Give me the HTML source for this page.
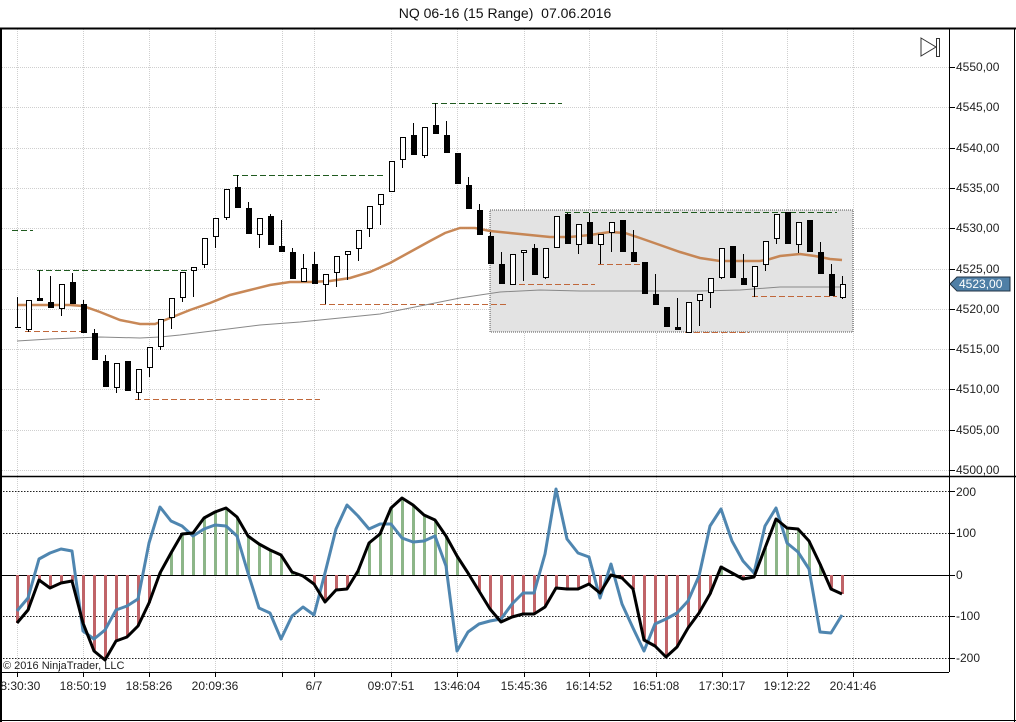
<!DOCTYPE html>
<html><head><meta charset="utf-8">
<style>
html,body{margin:0;padding:0;background:#fff;}
body{width:1016px;height:722px;overflow:hidden;font-family:"Liberation Sans",Arial,sans-serif;}
svg{display:block}
text{font-family:"Liberation Sans",Arial,sans-serif;}
</style></head>
<body>
<svg id="c" width="1016" height="722" viewBox="0 0 1016 722" xmlns="http://www.w3.org/2000/svg">
<rect width="1016" height="722" fill="#fff"/>
<text x="505" y="18" font-size="14" text-anchor="middle" fill="#111">NQ 06-16 (15 Range)&#160; 07.06.2016</text>
<g id="grid"></g>
<rect x="490" y="210" width="363" height="122" fill="#e3e3e3" stroke="#555" stroke-width="1" stroke-dasharray="1,1"/>
<g id="lev"></g>
<g id="ma"></g>
<g id="cand"></g>
<g id="low"></g>
<line x1="0" y1="28.5" x2="1016" y2="28.5" stroke="#000" stroke-width="2"/>
<line x1="1" y1="28" x2="1" y2="722" stroke="#000" stroke-width="2"/>
<line x1="0" y1="476.5" x2="1016" y2="476.5" stroke="#000" stroke-width="1.5"/>
<line x1="949.5" y1="28" x2="949.5" y2="672" stroke="#000" stroke-width="1"/>
<line x1="0" y1="672.5" x2="949" y2="672.5" stroke="#000" stroke-width="1"/>
<line x1="1014.5" y1="28" x2="1014.5" y2="722" stroke="#000" stroke-width="1"/>
<line x1="0" y1="720.5" x2="1016" y2="720.5" stroke="#000" stroke-width="1"/>
<polygon points="921,38 936,47 921,56" fill="none" stroke="#333" stroke-width="1"/>
<rect x="936.5" y="38.5" width="3" height="18" fill="none" stroke="#333" stroke-width="1"/>
<g font-size="12" fill="#222" id="ylab">
<text x="956" y="71">4550,00</text>
<text x="956" y="111">4545,00</text>
<text x="956" y="152">4540,00</text>
<text x="956" y="192">4535,00</text>
<text x="956" y="232">4530,00</text>
<text x="956" y="273">4525,00</text>
<text x="956" y="313">4520,00</text>
<text x="956" y="353">4515,00</text>
<text x="956" y="393">4510,00</text>
<text x="956" y="434">4505,00</text>
<text x="956" y="474">4500,00</text>
<text x="956" y="496">200</text>
<text x="956" y="537">100</text>
<text x="956" y="579">0</text>
<text x="956" y="620">-100</text>
<text x="956" y="662">-200</text>
</g>
<polygon points="950,284 957,277 1010,277 1010,291 957,291" fill="#4f7fa6" stroke="#234" stroke-width="1"/>
<text x="959" y="288" font-size="12" fill="#fff">4523,00</text>
<text x="3" y="669" font-size="11" fill="#222">© 2016 NinjaTrader, LLC</text>
<g font-size="12" fill="#222" text-anchor="middle">
<text x="17" y="690">18:30:30</text>
<text x="83" y="690">18:50:19</text>
<text x="149" y="690">18:58:26</text>
<text x="215" y="690">20:09:36</text>
<text x="314" y="690">6/7</text>
<text x="391" y="690">09:07:51</text>
<text x="457" y="690">13:46:04</text>
<text x="524" y="690">15:45:36</text>
<text x="589" y="690">16:14:52</text>
<text x="656" y="690">16:51:08</text>
<text x="722" y="690">17:30:17</text>
<text x="787" y="690">19:12:22</text>
<text x="853" y="690">20:41:46</text>
</g>
</svg>
<script>
var NS="http://www.w3.org/2000/svg";
function el(p,t,a){var e=document.createElementNS(NS,t);for(var k in a)e.setAttribute(k,a[k]);document.getElementById(p).appendChild(e);return e;}
var gx=[17,83,149,215,282,314,391,457,524,589,656,722,787,853];
gx.forEach(function(x){
 el("grid","line",{x1:x+.5,y1:29,x2:x+.5,y2:672,stroke:"#cfcfcf","stroke-dasharray":"1,1"});
 el("grid","line",{x1:x+.5,y1:672,x2:x+.5,y2:677,stroke:"#000"});
});
[67,107,148,188,228,269,309,349,389,430,470].forEach(function(y){
 el("grid","line",{x1:0,y1:y+.5,x2:949,y2:y+.5,stroke:"#cfcfcf","stroke-dasharray":"1,1"});
 el("grid","line",{x1:949,y1:y+.5,x2:955,y2:y+.5,stroke:"#000"});
});
[491,533,616,658].forEach(function(y){
 el("grid","line",{x1:0,y1:y+.5,x2:949,y2:y+.5,stroke:"#222","stroke-dasharray":"1.5,1.5"});
 el("grid","line",{x1:949,y1:y+.5,x2:955,y2:y+.5,stroke:"#000"});
});
el("grid","line",{x1:0,y1:575.5,x2:955,y2:575.5,stroke:"#000"});
var G="#1f5a1f",O="#c0673a";
[[12,33,230,G],[37,190,270,G],[233,385,175,G],[432,562,103,G],[565,837,212,G],
 [25,88,331,O],[135,320,399,O],[320,508,304,O],[510,595,284,O],[598,640,264,O],[685,749,332,O],[752,837,296,O]
].forEach(function(l){el("lev","line",{x1:l[0],y1:l[2]+.5,x2:l[1],y2:l[2]+.5,stroke:l[3],"stroke-dasharray":"6,3"});});
var ema=[[17,305],[40,305],[70,305],[83,306],[100,312],[120,320],[140,324],[155,324],[170,318],[190,310],[210,303],[230,295],[250,290],[270,285],[290,282],[310,282],[330,281],[350,278],[370,272],[390,263],[410,252],[430,241],[445,233],[460,228],[475,228],[490,231],[510,233],[530,235],[550,237],[570,237],[590,235],[610,232],[625,233],[640,238],[660,245],[680,252],[700,258],[720,261],[740,261],[760,261],[770,259],[780,256],[800,254],[815,256],[830,259],[842,260]];
var gr=[[17,341],[50,339],[100,337],[140,338],[160,337],[180,335],[220,330],[260,325],[300,322],[340,318],[380,314],[420,306],[460,298],[500,292],[540,290],[580,291],[620,291],[660,291],[700,291],[740,290],[780,287],[820,287],[842,287]];
el("ma","polyline",{points:gr.join(" "),fill:"none",stroke:"#888","stroke-width":1});
el("ma","polyline",{points:ema.join(" "),fill:"none",stroke:"#c27b45","stroke-width":2.5,"stroke-opacity":.9});
var C=[[327,327,297,327,0],[300,329,300,332,0],[298,300,270,300,1],[302,307,276,307,1],[284,308,284,316,0],[282,303,273,303,1],[304,332,300,332,1],[333,359,329,359,1],[361,386,355,386,1],[363,387,363,393,0],[361,390,361,390,1],[369,392,369,400,0],[347,367,347,377,0],[319,346,319,350,0],[298,317,298,329,0],[272,297,272,302,0],[267,270,267,297,0],[238,264,238,268,0],[218,236,218,248,0],[189,217,189,220,0],[187,207,175,207,1],[208,233,202,233,1],[218,234,218,248,0],[216,244,214,244,1],[246,251,220,251,1],[252,278,248,278,1],[268,281,254,281,0],[264,283,252,283,1],[274,284,274,304,0],[256,272,256,287,0],[251,254,251,280,0],[230,248,230,261,0],[206,228,206,237,0],[194,204,194,225,0],[161,191,161,191,0],[137,159,137,168,0],[135,154,123,154,1],[127,155,127,158,0],[125,133,103,133,1],[135,152,121,152,1],[153,183,153,183,1],[185,208,177,208,1],[210,234,204,234,1],[236,263,232,263,1],[264,283,252,283,1],[254,284,254,284,0],[250,252,250,281,0],[248,274,244,274,1],[248,277,248,279,0],[216,247,216,247,0],[214,243,213,243,1],[224,244,224,254,0],[222,243,213,243,1],[234,244,234,264,0],[222,232,222,252,0],[220,251,220,251,1],[252,261,230,261,1],[262,293,262,293,1],[294,304,274,304,1],[307,326,307,326,1],[327,329,298,329,1],[302,332,302,332,0],[294,300,294,326,0],[278,292,278,308,0],[248,277,248,279,0],[246,277,246,277,1],[278,284,254,284,1],[266,286,266,297,0],[241,264,241,271,0],[214,238,214,244,0],[212,243,212,243,1],[222,244,222,253,0],[220,251,220,251,1],[252,273,242,273,1],[274,295,264,295,1],[284,297,276,299,0]];
C.forEach(function(c,i){
 var x=17+11*i;
 el("cand","line",{x1:x+.5,y1:c[2],x2:x+.5,y2:c[3],stroke:"#000"});
 if(i==0){el("cand","line",{x1:x-2,y1:327.5,x2:x+4,y2:327.5,stroke:"#000"});return;}
 el("cand","rect",{x:x-2+.5,y:c[0]+.5,width:5,height:Math.max(1,c[1]-c[0]),fill:c[4]?"#000":"#fff",stroke:"#000"});
});
var B=[623,610,580,588,583,581,623,651,660,641,637,626,603,573,553,534,533,518,512,508,517,536,544,550,555,572,576,584,602,590,589,571,543,534,508,498,505,515,520,536,556,573,591,609,622,617,614,614,607,588,589,589,584,593,575,578,589,640,646,657,647,628,613,594,567,573,579,577,548,519,528,529,541,564,589,594];
var U=[611,598,559,553,549,551,631,639,630,610,606,599,543,507,521,526,536,529,525,526,536,573,608,613,639,616,607,615,573,529,505,516,529,524,524,538,542,541,536,566,651,632,624,621,619,604,593,593,554,489,539,553,557,598,564,604,628,651,624,619,613,601,576,526,509,541,561,573,526,508,543,552,569,632,633,615];
B.forEach(function(y,i){
 var x=17+11*i;
 if(Math.abs(y-575)<1)return;
 el("low","line",{x1:x+.5,y1:575,x2:x+.5,y2:y,stroke:y<575?"#8db689":"#c06468","stroke-width":3});
});
el("low","polyline",{points:U.map(function(y,i){return (17+11*i)+","+y}).join(" "),fill:"none",stroke:"#4f86b0","stroke-width":3,"stroke-linejoin":"round"});
el("low","polyline",{points:B.map(function(y,i){return (17+11*i)+","+y}).join(" "),fill:"none",stroke:"#000","stroke-width":3,"stroke-linejoin":"round"});
</script>
</body></html>
